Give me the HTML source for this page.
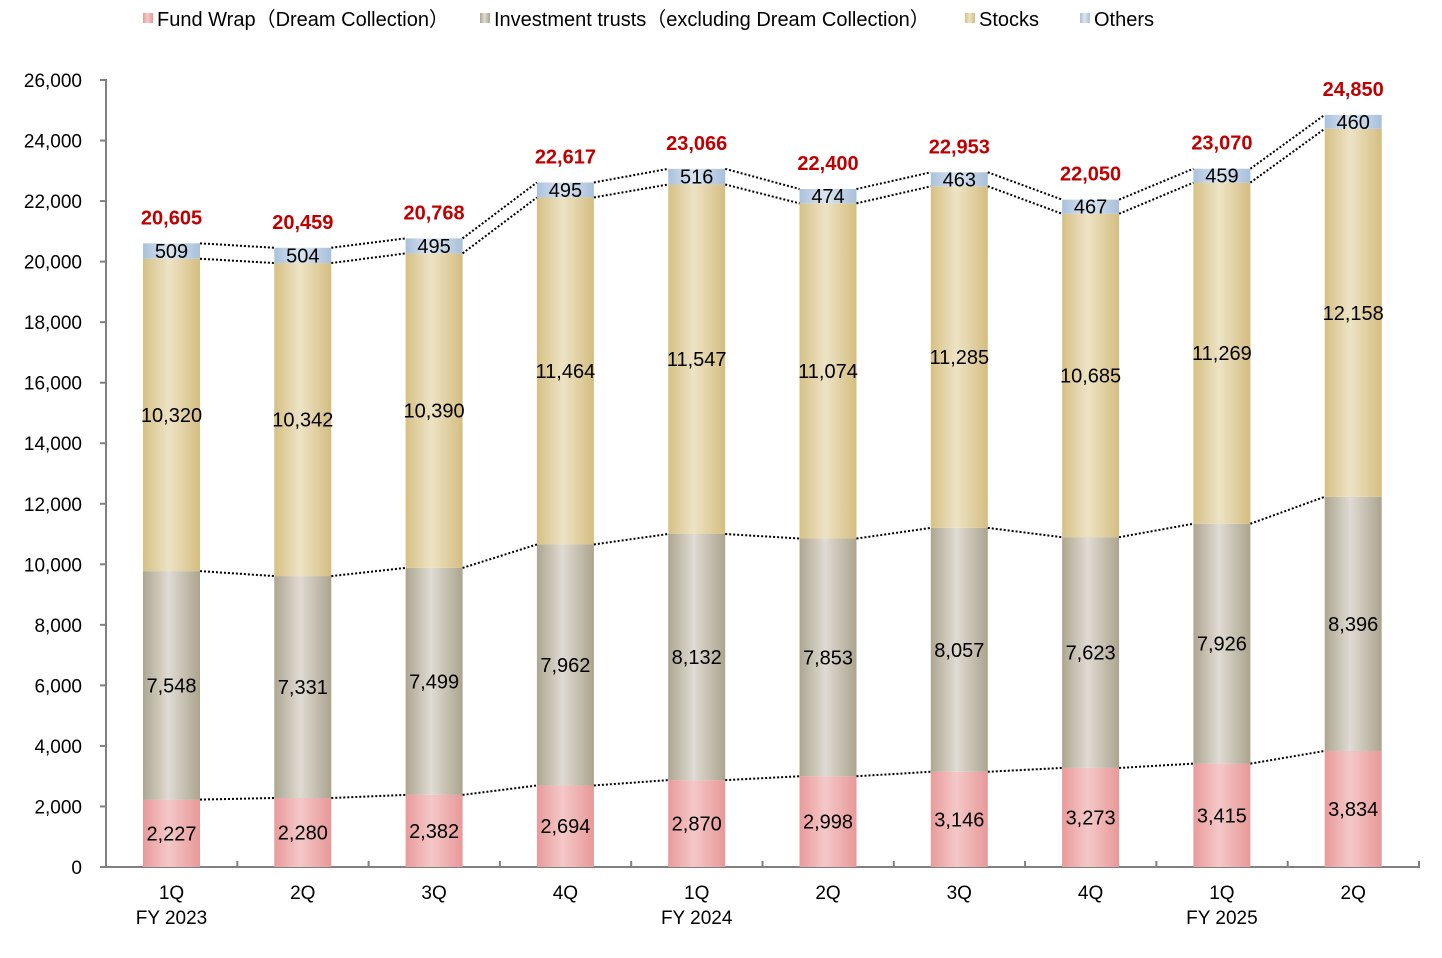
<!DOCTYPE html>
<html><head><meta charset="utf-8"><style>
body{margin:0;background:#fff;}
svg{display:block;font-family:"Liberation Sans","Noto Sans CJK JP",sans-serif;}
</style></head><body>
<svg id="c" width="1442" height="958" xmlns="http://www.w3.org/2000/svg">
<defs>
<linearGradient id="gF" x1="0" x2="1"><stop offset="0" stop-color="#e99a9a"/><stop offset="0.45" stop-color="#f4c8c8"/><stop offset="1" stop-color="#e89898"/></linearGradient>
<linearGradient id="gI" x1="0" x2="1"><stop offset="0" stop-color="#aca690"/><stop offset="0.45" stop-color="#e0dbd3"/><stop offset="1" stop-color="#aaa48e"/></linearGradient>
<linearGradient id="gS" x1="0" x2="1"><stop offset="0" stop-color="#d6c084"/><stop offset="0.45" stop-color="#ede3c5"/><stop offset="1" stop-color="#d4bd80"/></linearGradient>
<linearGradient id="gO" x1="0" x2="1"><stop offset="0" stop-color="#a9c1dc"/><stop offset="0.45" stop-color="#dbe5f0"/><stop offset="1" stop-color="#a8c0db"/></linearGradient>
</defs>
<g font-size="20" fill="#000">
<rect x="143" y="13" width="10" height="10" fill="url(#gF)"/><text x="157" y="26">Fund Wrap（Dream Collection）</text>
<rect x="480" y="13" width="10" height="10" fill="url(#gI)"/><text x="494" y="26">Investment trusts（excluding Dream Collection）</text>
<rect x="965" y="13" width="10" height="10" fill="url(#gS)"/><text x="979" y="26">Stocks</text>
<rect x="1080" y="13" width="10" height="10" fill="url(#gO)"/><text x="1094" y="26">Others</text>
</g>
<g id="g"></g>
</svg>
<script>
var d=[[2227,7548,10320,509,"20,605"],[2280,7331,10342,504,"20,459"],[2382,7499,10390,495,"20,768"],[2694,7962,11464,495,"22,617"],[2870,8132,11547,516,"23,066"],[2998,7853,11074,474,"22,400"],[3146,8057,11285,463,"22,953"],[3273,7623,10685,467,"22,050"],[3415,7926,11269,459,"23,070"],[3834,8396,12158,460,"24,850"]];
var cats=[["1Q","FY 2023"],["2Q"],["3Q"],["4Q"],["1Q","FY 2024"],["2Q"],["3Q"],["4Q"],["1Q","FY 2025"],["2Q"]];
function Y(v){return 867-v*787/26000;}
function f(n){return n.toLocaleString("en-US");}
var s="",W=57,g=["gF","gI","gS","gO"];
for(var k=0;k<=13;k++){var y=Y(k*2000);s+='<line x1="100" x2="106" y1="'+y+'" y2="'+y+'" stroke="#808080" stroke-width="2"/><text x="82" y="'+(y+7)+'" font-size="19" text-anchor="end">'+f(k*2000)+'</text>';}
s+='<line x1="106" x2="106" y1="79" y2="868" stroke="#808080" stroke-width="2"/><line x1="105" x2="1420" y1="867" y2="867" stroke="#808080" stroke-width="2"/>';
for(var i=0;i<=10;i++){var x=106+i*131.3;s+='<line x1="'+x+'" x2="'+x+'" y1="861" y2="867" stroke="#808080" stroke-width="2"/>';}
var tops=[];
d.forEach(function(r,i){var cx=171.5+i*131.3,x0=cx-W/2,c=0,t=[];
for(var j=0;j<4;j++){var y1=Y(c),y2=Y(c+r[j]);s+='<rect x="'+x0+'" y="'+y2+'" width="'+W+'" height="'+(y1-y2)+'" fill="url(#'+g[j]+')"/>';
s+='<text x="'+cx+'" y="'+((y1+y2)/2+7)+'" font-size="20" text-anchor="middle">'+f(r[j])+'</text>';c+=r[j];t.push(y2);}
tops.push(t);
s+='<text x="'+cx+'" y="'+(Y(c)-19)+'" font-size="20" font-weight="bold" fill="#c00000" text-anchor="middle">'+r[4]+'</text>';
cats[i].forEach(function(l,k){s+='<text x="'+cx+'" y="'+(899+k*25)+'" font-size="19" text-anchor="middle">'+l+'</text>';});
});
for(var i=0;i<9;i++){for(var j=0;j<4;j++){var xa=171.5+i*131.3+W/2,xb=171.5+(i+1)*131.3-W/2;
s+='<line x1="'+xa+'" y1="'+tops[i][j]+'" x2="'+xb+'" y2="'+tops[i+1][j]+'" stroke="#000" stroke-width="2" stroke-dasharray="2,2"/>';}}
document.getElementById("g").innerHTML=s;
</script>
</body></html>
